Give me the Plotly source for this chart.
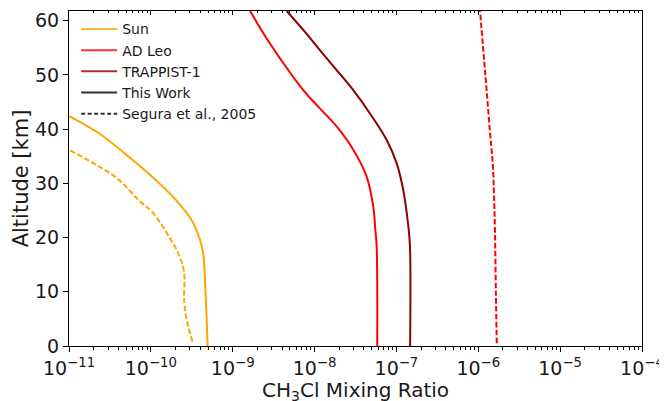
import plotly.graph_objects as go

# ---- data ----
sun_alt = [0, 10, 17, 19.6, 23.2, 26.9, 30, 34.3, 39.2, 42.4]
sun_ch3cl = [4.94e-10, 4.65e-10, 4.37e-10, 3.98e-10, 3.15e-10, 2.03e-10, 1.27e-10,
             6.0e-11, 2.34e-11, 1.0e-11]

adleo_alt = [0, 18.3, 21.5, 25.7, 31.2, 36.2, 40.5, 44.2, 47.2, 55.8, 61.8]
adleo_ch3cl = [5.83e-8, 5.74e-8, 5.52e-8, 5.21e-8, 4.34e-8, 2.97e-8, 1.86e-8, 1.10e-8,
               7.28e-9, 2.85e-9, 1.63e-9]

trappist_alt = [0, 18.3, 22.0, 28.8, 33.7, 38.0, 42.9, 47.2, 50.9, 54.6, 58.3, 61.8]
trappist_ch3cl = [1.47e-7, 1.465e-7, 1.40e-7, 1.21e-7, 1.007e-7, 7.6e-8, 4.75e-8,
                  2.97e-8, 1.86e-8, 1.16e-8, 7.28e-9, 4.56e-9]

segura_sun_alt = [0.8, 3.6, 7.9, 13.7, 17.1, 19.9, 24.5, 26.9, 30.6, 33.1, 36.2]
segura_sun_ch3cl = [3.24e-10, 2.86e-10, 2.56e-10, 2.54e-10, 2.16e-10, 1.71e-10,
                    1.07e-10, 7.1e-11, 4.12e-11, 2.34e-11, 1.0e-11]

segura_adleo_alt = [0.5, 10, 20.8, 28, 33.7, 40, 50, 61.8]
segura_adleo_ch3cl = [1.68e-6, 1.64e-6, 1.60e-6, 1.556e-6, 1.50e-6, 1.38e-6, 1.22e-6, 1.05e-6]

legend_names = ["Sun", "AD Leo", "TRAPPIST-1", "This Work", "Segura et al., 2005"]

x_tickvals = [1e-11, 1e-10, 1e-9, 1e-8, 1e-7, 1e-6, 1e-5, 1e-4]
x_ticktext = ["10<sup>\u221211</sup>", "10<sup>\u221210</sup>", "10<sup>\u22129</sup>",
              "10<sup>\u22128</sup>", "10<sup>\u22127</sup>", "10<sup>\u22126</sup>",
              "10<sup>\u22125</sup>", "10<sup>\u22124</sup>"]
y_tickvals = [0, 10, 20, 30, 40, 50, 60]

minor_vals = [m * 10.0 ** e for e in range(-11, -4) for m in range(2, 10)]

FONT = "DejaVu Sans"
TXT = "#1a1a1a"
LW = 2
DASH = "5.5px,2.4px"
SM = 1.0

fig = go.Figure()

fig.add_trace(go.Scatter(x=sun_ch3cl, y=sun_alt, mode="lines", line=dict(color="#FFA500", width=LW, shape="spline", smoothing=SM), showlegend=False, hoverinfo="skip"))
fig.add_trace(go.Scatter(x=adleo_ch3cl, y=adleo_alt, mode="lines", line=dict(color="#FF0000", width=LW, shape="spline", smoothing=SM), showlegend=False, hoverinfo="skip"))
fig.add_trace(go.Scatter(x=trappist_ch3cl, y=trappist_alt, mode="lines", line=dict(color="#8B0000", width=LW, shape="spline", smoothing=SM), showlegend=False, hoverinfo="skip"))
fig.add_trace(go.Scatter(x=segura_sun_ch3cl, y=segura_sun_alt, mode="lines", line=dict(color="#FFA500", width=LW, dash=DASH, shape="spline", smoothing=SM), showlegend=False, hoverinfo="skip"))
fig.add_trace(go.Scatter(x=segura_adleo_ch3cl, y=segura_adleo_alt, mode="lines", xaxis="x2", line=dict(color="#FF0000", width=LW, dash=DASH, shape="spline", smoothing=SM), showlegend=False, hoverinfo="skip"))

leg_colors = ["#FFB733", "#FF3333", "#A23333", "#333333", "#333333"]
leg_dash = ["solid", "solid", "solid", "solid", "4px,2.5px"]
for name, c, d in zip(legend_names, leg_colors, leg_dash):
    fig.add_trace(go.Scatter(x=[None], y=[None], mode="lines", name=name,
                             line=dict(color=c, width=LW, dash=d)))

# The page body adds an 8px offset; the figure size compensates for it.
fig.update_layout(
    width=659, height=393,
    margin=dict(l=61, r=25, t=3, b=55),
    paper_bgcolor="white", plot_bgcolor="white",
    font=dict(family=FONT, color=TXT),
    showlegend=True,
    legend=dict(x=0.0125, y=0.993, xanchor="left", yanchor="top", bgcolor="rgba(0,0,0,0)",
                font=dict(family=FONT, size=14, color=TXT), tracegroupgap=0,
                itemwidth=36),
    xaxis=dict(type="log", range=[-11, -4], tickmode="array", tickvals=x_tickvals,
               ticktext=x_ticktext, ticks="outside", ticklen=5, tickwidth=1, tickcolor="black",
               showline=True, linecolor="black", linewidth=1, mirror=True, showgrid=False,
               zeroline=False, automargin=False,
               tickfont=dict(family=FONT, size=19, color=TXT),
               minor=dict(tickmode="array", tickvals=minor_vals, ticks="outside", ticklen=3,
                          tickwidth=0.8, tickcolor="black", showgrid=False)),
    xaxis2=dict(type="log", range=[-11, -4], overlaying="x", side="top", anchor="y",
                tickmode="array", tickvals=x_tickvals, showticklabels=False, automargin=False,
                ticks="inside", ticklen=4, tickwidth=1, tickcolor="black", showgrid=False,
                zeroline=False, showline=False,
                minor=dict(tickmode="array", tickvals=minor_vals, ticks="inside", ticklen=2,
                           tickwidth=0.8, tickcolor="black", showgrid=False)),
    yaxis=dict(range=[0, 61.8], tickmode="array", tickvals=y_tickvals, ticks="outside",
               ticklen=5, tickwidth=1, tickcolor="black", showline=True, linecolor="black",
               linewidth=1, mirror=True, showgrid=False, zeroline=False, automargin=False,
               tickfont=dict(family=FONT, size=19, color=TXT),
               title=dict(text="Altitude [km]", font=dict(family=FONT, size=21, color=TXT), standoff=0)),
    annotations=[dict(text="CH<sub>3</sub>Cl Mixing Ratio", xref="paper", yref="paper",
                      x=0.5, y=-0.133, xanchor="center", yanchor="middle", showarrow=False,
                      font=dict(family=FONT, size=20, color=TXT))],
)

fig.write_html("out.html")
